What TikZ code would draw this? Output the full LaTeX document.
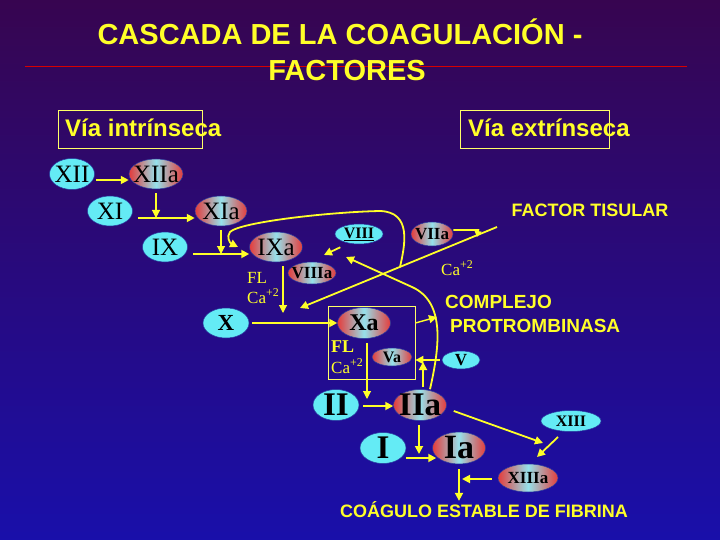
\documentclass[tikz,border=0pt]{standalone}
\usepackage{fontspec}
\setmainfont{Liberation Serif}
\newfontfamily\arialf{Liberation Sans}
\usepackage{tikz}
\usetikzlibrary{shapes.geometric,arrows.meta}
\definecolor{bgtop}{RGB}{55,5,80}
\definecolor{bgbot}{RGB}{25,15,170}
\definecolor{amar}{RGB}{255,255,40}
\definecolor{cian}{RGB}{100,235,245}
\definecolor{rojo}{RGB}{228,60,60}
\definecolor{medio}{RGB}{150,225,235}
\definecolor{borde}{RGB}{40,60,160}
\newcommand{\tam}[1]{\fontsize{#1}{#1}\selectfont}
\newcommand{\etq}[1]{\makebox[0pt]{#1}}

\begin{document}
\begin{tikzpicture}[x=1pt,y=-1pt,
    fac/.style={ellipse, fill=cian, draw=borde, line width=0.5pt, inner sep=0pt, font=\tam{25}},
    act/.style={ellipse, left color=rojo, right color=rojo, middle color=medio, draw=borde, line width=0.5pt, inner sep=0pt, font=\tam{25}},
    arr/.style={amar, line width=1.8pt, -{Triangle[length=8pt,width=8pt]}},
    fino/.style={line width=1.1pt},
    tit/.style={amar, font=\arialf\bfseries\tam{18}, inner sep=0pt},
    nota/.style={amar, font=\tam{17}, inner sep=0pt, anchor=base west},
    caja/.style={draw=amar!70!white, line width=0.8pt, inner sep=0pt}]
      \useasboundingbox (0,0) rectangle (720,540);
      \shade[top color=bgtop, bottom color=bgbot] (0,0) rectangle (720,540);

      % Titulo
      \draw[red!85!black, line width=1pt] (25,67) -- (687,67);
      \node[amar, font=\arialf\bfseries\tam{29}, inner sep=0pt, anchor=base] (t1) at (340,45) {CASCADA DE LA COAGULACIÓN -};
      \node[amar, font=\arialf\bfseries\tam{29}, inner sep=0pt, anchor=base] (t2) at (347,81) {FACTORES};

      % Vias
      \node[caja, minimum width=144, minimum height=38] (ibox) at (130,129) {};
      \node[tit, font=\arialf\bfseries\tam{24}, anchor=base west] (itxt) at (65,137) {Vía intrínseca};
      \node[caja, minimum width=149, minimum height=38] (ebox) at (534.5,129) {};
      \node[tit, font=\arialf\bfseries\tam{24}, anchor=base west] (etxt) at (468,137) {Vía extrínseca};

      % Complejo protrombinasa
      \node[caja, minimum width=87, minimum height=73] (cbox) at (371.5,342.5) {};

      % Factores inactivos
      \node[fac, minimum width=45, minimum height=31] (XII) at (72,174) {\etq{XII}};
      \node[fac, minimum width=45, minimum height=30] (XI) at (110,211) {\etq{XI}};
      \node[fac, minimum width=45, minimum height=30] (IX) at (165,247) {\etq{IX}};
      \node[fac, minimum width=48, minimum height=20, font=\bfseries\tam{16}] (VIII) at (359,234) {\etq{\underline{VIII}}};
      \node[fac, minimum width=46, minimum height=30, font=\bfseries\tam{23}] (X) at (226,323) {\etq{X}};
      \node[fac, minimum width=38, minimum height=18, font=\bfseries\tam{17}] (V) at (461,360) {\etq{V}};
      \node[fac, minimum width=46, minimum height=31, font=\bfseries\tam{33}] (II) at (336,405) {\etq{II}};
      \node[fac, minimum width=46, minimum height=31, font=\bfseries\tam{33}] (I) at (383,448) {\etq{I}};
      \node[fac, minimum width=60, minimum height=21, font=\bfseries\tam{16}] (XIII) at (571,421) {\etq{XIII}};

      % Factores activados
      \node[act, minimum width=54, minimum height=30] (XIIa) at (156,174) {\etq{XIIa}};
      \node[act, minimum width=52, minimum height=30] (XIa) at (221,211) {\etq{XIa}};
      \node[act, minimum width=53, minimum height=30] (IXa) at (276,247) {\etq{IXa}};
      \node[act, minimum width=48, minimum height=22, font=\bfseries\tam{17}] (VIIIa) at (312,273) {\etq{VIIIa}};
      \node[act, minimum width=42, minimum height=24, font=\bfseries\tam{17}] (VIIa) at (432,234) {\etq{VIIa}};
      \node[act, minimum width=53, minimum height=31, font=\bfseries\tam{24}] (Xa) at (364,323) {\etq{Xa}};
      \node[act, minimum width=40, minimum height=18, font=\bfseries\tam{16}] (Va) at (392,357) {\etq{Va}};
      \node[act, minimum width=53, minimum height=31, font=\bfseries\tam{33}] (IIa) at (420,405) {\etq{IIa}};
      \node[act, minimum width=53, minimum height=30, font=\bfseries\tam{34}] (Ia) at (459,448) {\etq{Ia}};
      \node[act, minimum width=60, minimum height=28, font=\bfseries\tam{17}] (XIIIa) at (528,478) {\etq{XIIIa}};

      % Textos
      \node[nota] (fl1) at (247,283) {FL};
      \node[nota] (ca1) at (247,303) {Ca\textsuperscript{+2}};
      \node[nota, font=\bfseries\tam{18}] (fl2) at (331,352) {FL};
      \node[nota] (ca2) at (331,373) {Ca\textsuperscript{+2}};
      \node[nota] (ca3) at (441,275) {Ca\textsuperscript{+2}};
      \node[tit, anchor=base] (tf) at (590,217) {FACTOR TISULAR};
      \node[tit, font=\arialf\bfseries\tam{19}, anchor=base west] (cp1) at (445,308) {COMPLEJO};
      \node[tit, font=\arialf\bfseries\tam{19}, anchor=base west] (cp2) at (450,332) {PROTROMBINASA};
      \node[tit, anchor=base] (coag) at (484,517) {COÁGULO ESTABLE DE FIBRINA};

      % Via intrinseca
      \draw[arr] ([xshift=1pt,yshift=-6pt]XII.east) -- ([yshift=-6pt]XIIa.west);
      \coordinate (m1) at (156,218);
      \draw[arr, fino, shorten <=4pt] (XIIa) -- (m1);
      \draw[arr] ([xshift=5pt,yshift=-7pt]XI.east) -- ([yshift=-7pt]XIa.west);
      \coordinate (m2) at (221,254);
      \draw[arr, fino, shorten <=4pt] (XIa) -- (m2);
      \draw[arr] ([xshift=5pt,yshift=-7pt]IX.east) -- ([yshift=-7pt]IXa.west);
      \coordinate (m3) at (283,313);
      \draw[arr, fino, shorten <=4pt] (IXa.south -| m3) -- (m3);

      % Via comun
      \draw[arr, shorten <=3pt] (X) -- (Xa);
      \coordinate (m4) at (367,399);
      \draw[arr, fino, shorten <=4pt] (Xa.south -| m4) -- (m4);
      \draw[arr, shorten <=4pt] ([yshift=-1pt]II.east) -- ([yshift=-1pt]IIa.west);
      \coordinate (m5) at (419,454);
      \draw[arr, shorten <=4pt] (IIa.south -| m5) -- (m5);
      \draw[arr] ([yshift=-10pt]I.east) -- ([xshift=4pt,yshift=-10pt]Ia.west);

      % Fibrina
      \coordinate (m6) at (543,443);
      \draw[arr] ([shift={(7,6)}]IIa.east) -- (m6);
      \draw[arr] ([shift={(-13,16)}]XIII.center) -- ([shift={(9,-21)}]XIIIa.center);
      \coordinate (m7) at (462,479);
      \draw[arr, shorten <=6pt] ([yshift=-1pt]XIIIa.west) -- (m7);
      \draw[arr, shorten <=5pt] (Ia.south) -- (Ia.south |- coag.north);

      % Complejo y trombina
      \coordinate (m9) at (423,362);
      \draw[arr, shorten <=2pt] (IIa.north -| m9) -- (m9);
      \draw[arr, shorten <=2pt] (V.west) -- (V.west -| cbox.east);
      \coordinate (m10) at (437,317);
      \draw[arr, line width=1.4pt] (cbox.east |- Xa) -- (m10);
      \coordinate (m11) at (346,257);
      \draw[arr] ([xshift=10pt]IIa.north) .. controls (440,345) and (445,302) .. (412,287) -- (m11);
      \draw[arr, shorten <=3pt] ([shift={(-16,12)}]VIII.center) -- ([shift={(12,-18)}]VIIIa.center);

      % Via extrinseca
      \coordinate (m12) at (497,227);
      \coordinate (m13) at (300,308);
      \draw[arr] (m12) -- (m13);
      \coordinate (m14) at (477,237);
      \draw[arr, -{Triangle[length=6pt,width=7pt]}] ([yshift=4pt]VIIa.east) -- ++(25,0) -- (m14);
      \coordinate (m15) at (400,267);
      \coordinate (m16) at (238,247);
      \draw[arr] (m15) .. controls (405,245) and (412,212) .. (380,211)
            .. controls (330,212) and (240,222) .. (230,232)
            .. controls (226,237) and (230,243) .. (m16);
    \end{tikzpicture}
\end{document}
